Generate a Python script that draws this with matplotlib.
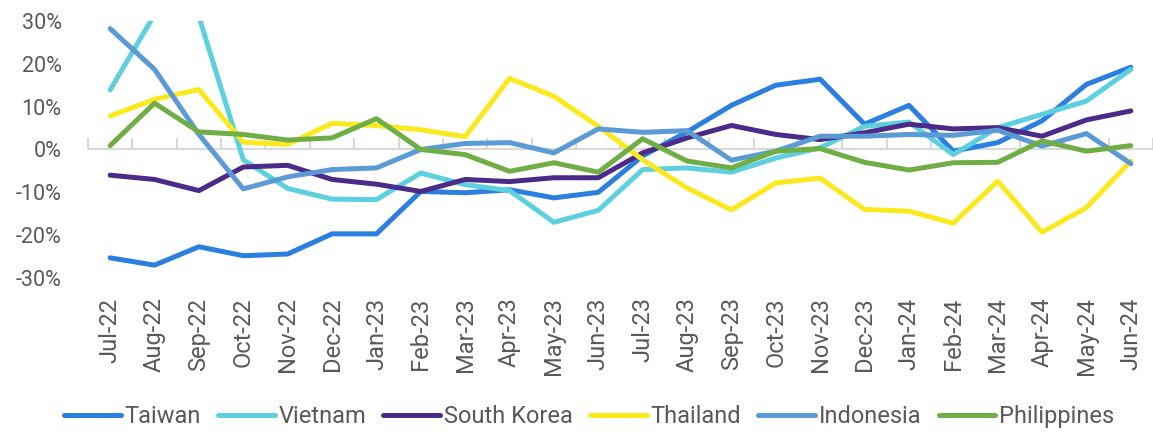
import numpy as np
import matplotlib
matplotlib.use("Agg")
import matplotlib.pyplot as plt
from matplotlib.ticker import FuncFormatter

# 数据 (同比 %)
months = ["Jul-22", "Aug-22", "Sep-22", "Oct-22", "Nov-22", "Dec-22", "Jan-23", "Feb-23",
          "Mar-23", "Apr-23", "May-23", "Jun-23", "Jul-23", "Aug-23", "Sep-23", "Oct-23",
          "Nov-23", "Dec-23", "Jan-24", "Feb-24", "Mar-24", "Apr-24", "May-24", "Jun-24"]

taiwan = [-25.3, -27.0, -22.7, -24.8, -24.4, -19.7, -19.7, -9.8, -10.1, -9.4, -11.3, -10.0,
          -1.5, 4.1, 10.3, 15.0, 16.4, 5.9, 10.3, -0.4, 1.6, 6.7, 15.2, 19.2]
vietnam = [13.9, 31.5, 31.0, -2.4, -9.1, -11.6, -11.7, -5.5, -8.2, -9.6, -17.0, -14.2,
           -4.7, -4.3, -5.3, -2.0, 0.4, 5.4, 6.4, -1.2, 5.1, 8.2, 11.3, 18.7]
south_korea = [-6.0, -7.0, -9.6, -4.1, -3.7, -7.0, -8.1, -9.8, -7.0, -7.5, -6.6, -6.6,
               -0.8, 2.7, 5.6, 3.5, 2.3, 3.9, 5.9, 4.8, 5.1, 3.1, 6.9, 9.0]
thailand = [7.8, 11.7, 14.0, 1.7, 1.2, 6.1, 5.6, 4.6, 3.0, 16.6, 12.4, 5.4,
            -2.4, -9.0, -14.1, -7.8, -6.7, -14.0, -14.4, -17.2, -7.4, -19.3, -13.6, -2.7]
indonesia = [28.2, 18.7, 3.5, -9.2, -6.4, -4.7, -4.3, 0.0, 1.4, 1.6, -0.8, 4.8,
             4.0, 4.4, -2.5, -0.4, 3.1, 3.1, 3.5, 3.3, 4.5, 0.8, 3.7, -3.3]
philippines = [0.9, 10.8, 4.1, 3.5, 2.2, 2.7, 7.2, 0.0, -1.2, -5.1, -3.1, -5.3,
               2.5, -2.7, -4.3, -0.4, 0.2, -3.0, -4.8, -3.1, -3.0, 2.0, -0.4, 0.9]

series = [
    ("Taiwan", taiwan, "#2b7fe0"),
    ("Vietnam", vietnam, "#5dd0e0"),
    ("South Korea", south_korea, "#4b2a88"),
    ("Thailand", thailand, "#fbe91e"),
    ("Indonesia", indonesia, "#5b9bd5"),
    ("Philippines", philippines, "#6fae45"),
]

plt.rcParams['font.family'] = ['Roboto', 'DejaVu Sans']
text_col = "#595959"
grid_col = "#d9d9d9"

fig = plt.figure(figsize=(11.53, 4.32), dpi=100)
ax = fig.add_axes([0.0763, 0.3565, 0.9237, 0.595])

x = np.arange(len(months))
for name, vals, col in series:
    ax.plot(x, vals, color=col, lw=3.6, label=name, solid_capstyle='round')

ax.set_xlim(-0.5, len(months) - 0.5)
ax.set_ylim(-30, 30)
ax.set_yticks(np.arange(-30, 31, 10))
ax.yaxis.set_major_formatter(FuncFormatter(lambda v, p: f"{v:.0f}%"))
ax.tick_params(axis='y', length=0, pad=19, labelsize=15.5, labelcolor=text_col)

ax.set_xticks(x)
ax.set_xticklabels(months, rotation=90, va='top', ha='center')
ax.tick_params(axis='x', length=0, pad=14, labelsize=17, labelcolor=text_col)

for s in ax.spines.values():
    s.set_visible(False)

# 零线和类别分隔刻度
ax.axhline(0, color=grid_col, lw=1.5, zorder=0)
sec = ax.secondary_xaxis(0.5)
sec.set_xticks(np.arange(len(months) + 1) - 0.5)
sec.set_xticklabels([])
sec.tick_params(axis='x', direction='out', length=8, width=1.5, color=grid_col)
for s in sec.spines.values():
    s.set_visible(False)

fig.legend(loc='lower center', bbox_to_anchor=(0.511, -0.04), ncol=6, frameon=False,
           fontsize=17, labelcolor=text_col, handlelength=2.4, handletextpad=0.17,
           columnspacing=0.72)

fig.savefig("out.png", dpi=100)
